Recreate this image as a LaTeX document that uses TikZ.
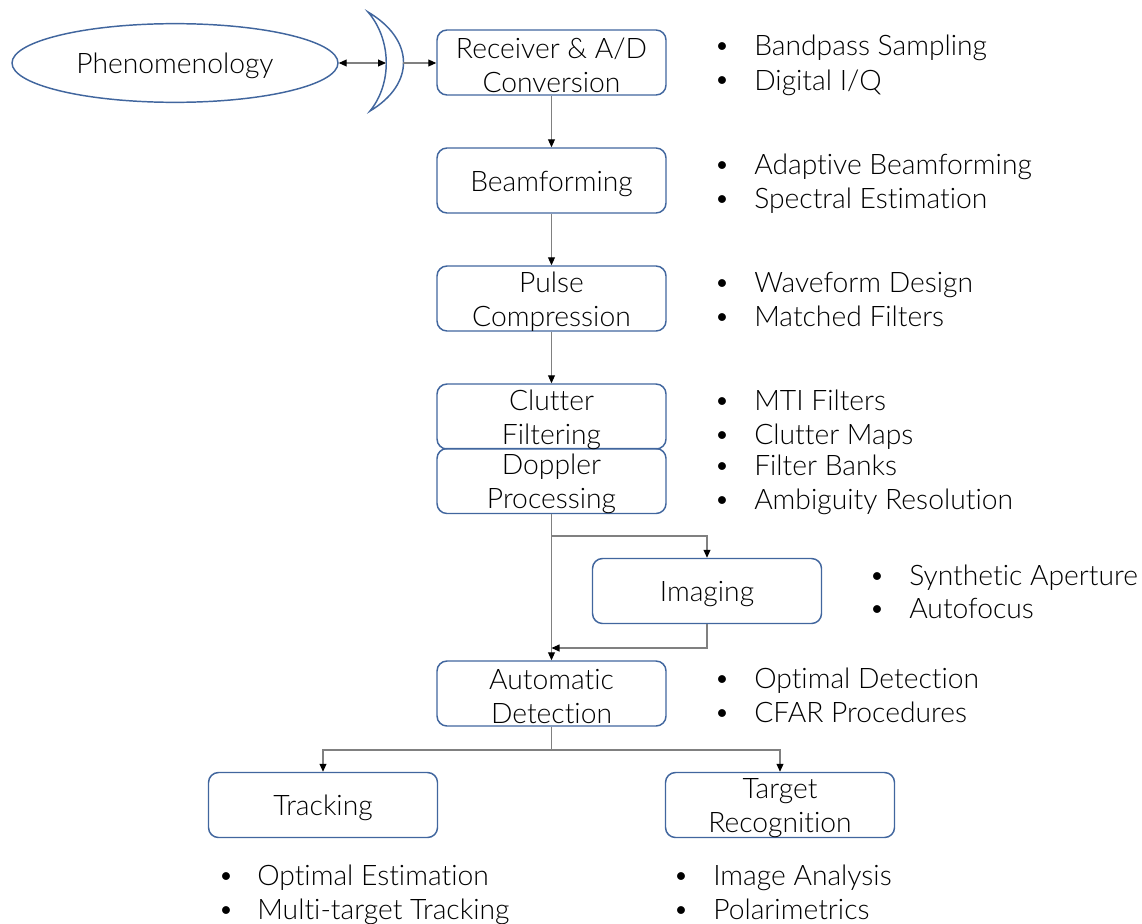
\documentclass[tikz,border=0pt]{standalone}
\usepackage{fontspec}
\setmainfont{Lato}[UprightFont=* Light, BoldFont=* Regular, Ligatures=NoCommon]
\usetikzlibrary{shapes.geometric,arrows.meta}
\definecolor{boxblue}{HTML}{41669E}
\definecolor{linegray}{HTML}{808080}
\begin{document}
\begin{tikzpicture}[x=0.75pt,y=-0.75pt,
  every node/.style={font=\fontsize{21.2}{25.5}\selectfont, text=black},
  stage/.style={draw=boxblue, line width=1.1pt, rounded corners=7.5pt,
    minimum width=171.75pt, minimum height=48.75pt, inner sep=0pt},
  caption/.style={align=center, inner sep=0pt},
  flow/.style={draw=linegray, line width=0.8pt,
    -{Triangle[length=6pt,width=5.2pt,color=black]}},
  twoway/.style={draw=linegray, line width=0.8pt,
    {Triangle[length=6pt,width=5.2pt,color=black]}-{Triangle[length=6pt,width=5.2pt,color=black]}},
  plain/.style={draw=linegray, line width=0.8pt},
  item/.style={anchor=base west, inner sep=0pt},
  dot/.style={anchor=base, inner sep=0pt, font=\fontsize{20}{20}\selectfont}]
\useasboundingbox (0,0) rectangle (1142,924);

% source of the echoes
\node[draw=boxblue, line width=1.1pt, ellipse, minimum width=244.5pt,
  minimum height=59pt, inner sep=0pt] (ph) at (175,63) {};
\node[caption] (ph-t) at ([yshift=-2.25pt]ph.center) {Phenomenology};

% antenna dish
\coordinate (ant-top) at (368,12);
\coordinate (ant-bot) at (370,111);
\coordinate (ant-in) at (386,63);
\coordinate (ant-out) at (403,63);
\draw[draw=boxblue, line width=1.1pt, fill=white]
  (ant-top) .. controls (415,40) and (415,84) .. (ant-bot)
            .. controls (392,84) and (392,40) .. cycle;

% processing chain
\node[stage] (rx) at (551.5,62.5) {};
\node[stage] (bf) at (551.5,180.5) {};
\node[stage] (pc) at (551.5,298.5) {};
\node[stage] (cf) at (551.5,416.5) {};
\node[stage] (dp) at (551.5,481) {};
\node[stage] (im) at (707,591) {};
\node[stage] (ad) at (551.5,693.5) {};
\node[stage] (tr) at (323,805) {};
\node[stage] (tg) at (780,805) {};

\node[caption] (rx-t) at ([yshift=-2.25pt]rx.center) {Receiver \& A/D\\Conversion};
\node[caption] (bf-t) at ([yshift=-2.25pt]bf.center) {Beamforming};
\node[caption] (pc-t) at ([yshift=-2.25pt]pc.center) {Pulse\\Compression};
\node[caption] (cf-t) at ([yshift=-2.25pt]cf.center) {Clutter\\Filtering};
\node[caption] (dp-t) at ([yshift=-2.25pt]dp.center) {Doppler\\Processing};
\node[caption] (im-t) at ([yshift=-2.25pt]im.center) {Imaging};
\node[caption] (ad-t) at ([yshift=-2.25pt]ad.center) {Automatic\\Detection};
\node[caption] (tr-t) at ([yshift=-2.25pt]tr.center) {Tracking};
\node[caption] (tg-t) at ([yshift=-2.25pt]tg.center) {Target\\Recognition};

% connectors
\draw[twoway] (ph.east |- ant-in) -- (ant-in);
\draw[flow] (ant-out) -- (ant-out -| rx.west);
\draw[flow] (rx) -- (bf);
\draw[flow] (bf) -- (pc);
\draw[flow] (pc) -- (cf);
\draw[flow] (dp) -- (ad);
\coordinate (split) at (551.5,536);
\coordinate (join) at (551.5,648);
\draw[flow] (split) -| (im.north);
\draw[flow] (im.south) |- (join);
\coordinate (fork) at (551.5,750);
\draw[plain] (ad.south) -- (fork);
\draw[flow] (fork) -| (tr.north);
\draw[flow] (fork) -| (tg.north);

% topic lists
\foreach \dx/\tx/\by/\txt [count=\n] in {
  722/754/56/{Bandpass Sampling}, 722/754/90/{Digital I/Q},
  722/754/174/{Adaptive Beamforming}, 722/754/208/{Spectral Estimation},
  722/754/292/{Waveform Design}, 722/754/326/{Matched Filters},
  722/754/410/{MTI Filters}, 722/754/444/{Clutter Maps},
  722/754/475/{Filter Banks}, 722/754/509/{Ambiguity Resolution},
  877/909/585/{Synthetic Aperture}, 877/909/618/{Autofocus},
  722/754/688/{Optimal Detection}, 722/754/722/{CFAR Procedures},
  226/257/885/{Optimal Estimation}, 226/257/919/{Multi-target Tracking},
  681/713/885/{Image Analysis}, 681/713/919/{Polarimetrics}}
{
  \node[dot] (d\n) at (\dx,\by-1) {•};
  \node[item] (t\n) at (\tx,\by) {\txt};
}
\end{tikzpicture}
\end{document}
